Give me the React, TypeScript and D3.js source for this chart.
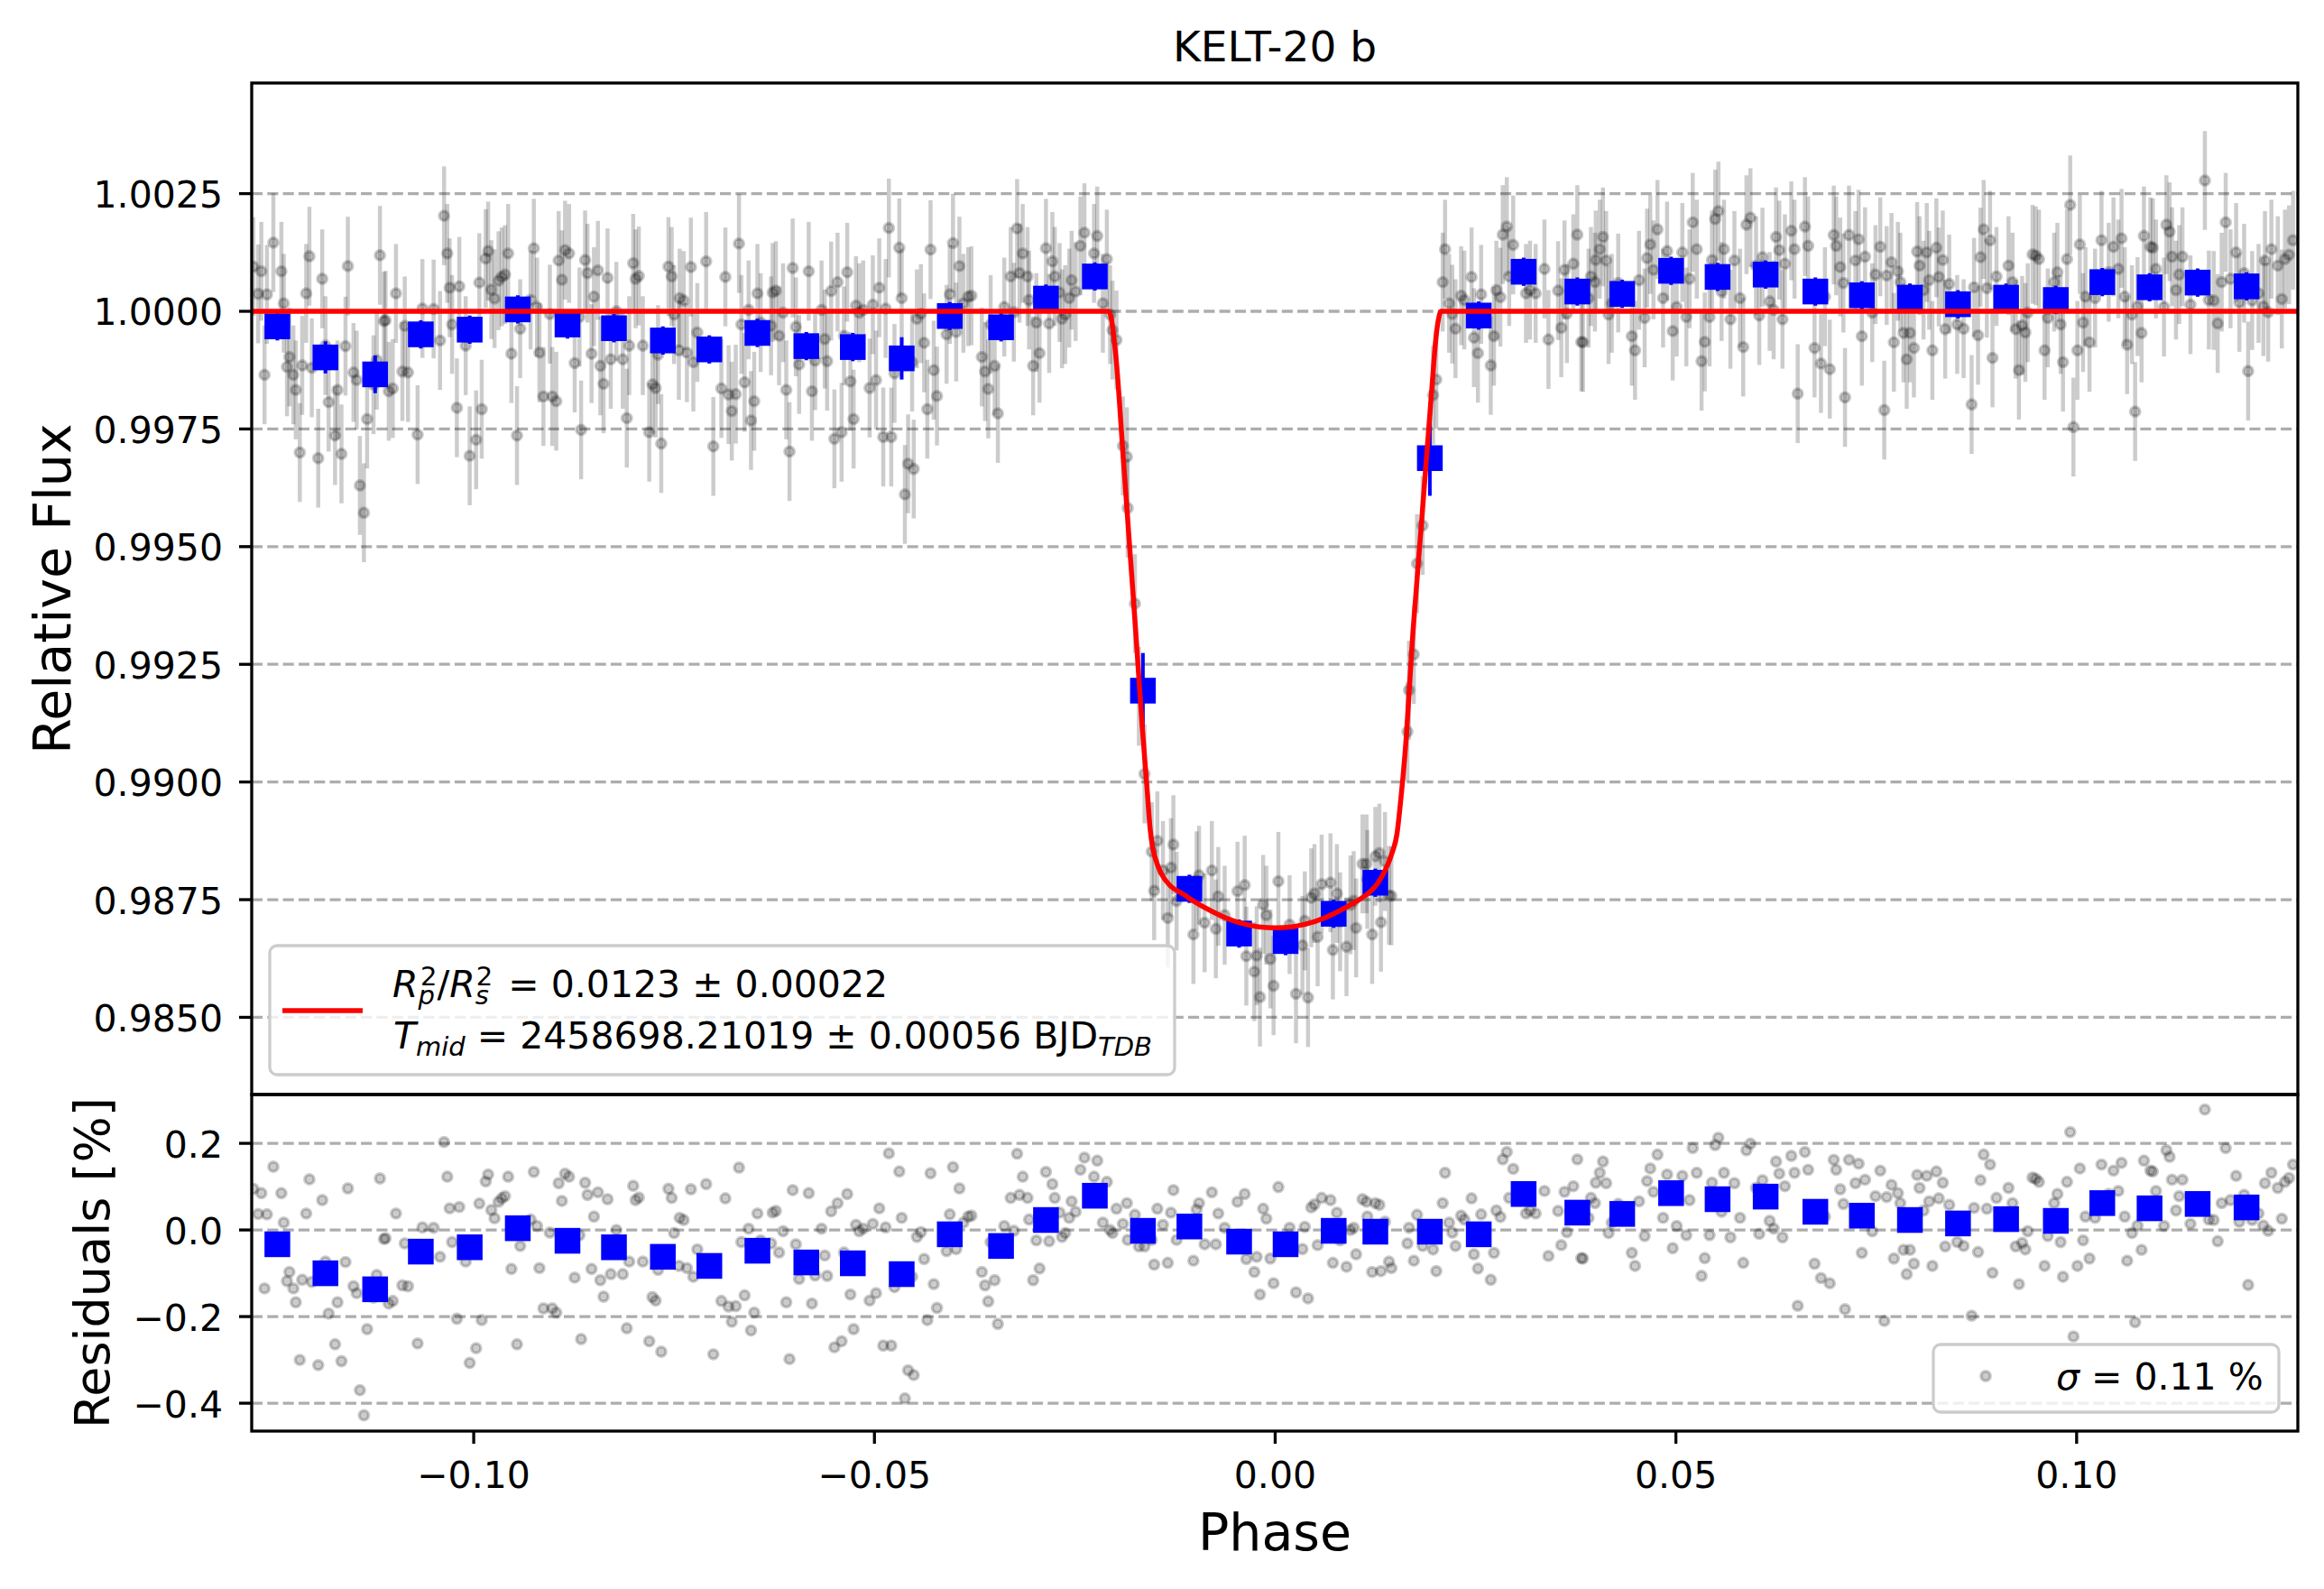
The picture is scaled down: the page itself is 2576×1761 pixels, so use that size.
import React from 'react';
import * as d3 from 'd3';

// phase-folded light curve (gray points), one entry per exposure
const PHASE = [
  -0.1275,-0.1269,-0.1265,-0.1261,-0.1258,-0.1250,-0.1240,-0.1237,-0.1233,-0.1230,
  -0.1225,-0.1222,-0.1217,-0.1214,-0.1209,-0.1205,-0.1202,-0.1194,-0.1189,-0.1185,
  -0.1181,-0.1173,-0.1170,-0.1165,-0.1160,-0.1157,-0.1150,-0.1146,-0.1142,-0.1137,
  -0.1133,-0.1125,-0.1121,-0.1117,-0.1112,-0.1110,-0.1106,-0.1101,-0.1097,-0.1089,
  -0.1086,-0.1082,-0.1070,-0.1064,-0.1050,-0.1042,-0.1037,-0.1033,-0.1030,-0.1027,
  -0.1021,-0.1018,-0.1010,-0.1005,-0.0997,-0.0993,-0.0990,-0.0985,-0.0982,-0.0978,
  -0.0974,-0.0969,-0.0965,-0.0961,-0.0957,-0.0953,-0.0946,-0.0942,-0.0929,-0.0925,
  -0.0921,-0.0918,-0.0913,-0.0905,-0.0902,-0.0897,-0.0894,-0.0890,-0.0886,-0.0881,
  -0.0874,-0.0868,-0.0866,-0.0861,-0.0858,-0.0853,-0.0850,-0.0845,-0.0842,-0.0838,
  -0.0833,-0.0829,-0.0822,-0.0814,-0.0809,-0.0806,-0.0801,-0.0798,-0.0794,-0.0789,
  -0.0781,-0.0777,-0.0773,-0.0770,-0.0766,-0.0757,-0.0753,-0.0750,-0.0744,-0.0743,
  -0.0738,-0.0734,-0.0729,-0.0726,-0.0721,-0.0710,-0.0701,-0.0691,-0.0686,-0.0682,
  -0.0678,-0.0673,-0.0669,-0.0666,-0.0662,-0.0657,-0.0654,-0.0650,-0.0646,-0.0642,
  -0.0629,-0.0627,-0.0623,-0.0619,-0.0614,-0.0610,-0.0606,-0.0602,-0.0598,-0.0594,
  -0.0582,-0.0578,-0.0574,-0.0566,-0.0562,-0.0559,-0.0554,-0.0550,-0.0546,-0.0541,
  -0.0538,-0.0534,-0.0530,-0.0526,-0.0523,-0.0519,-0.0514,-0.0506,-0.0502,-0.0498,
  -0.0494,-0.0489,-0.0486,-0.0482,-0.0479,-0.0475,-0.0469,-0.0466,-0.0462,-0.0458,
  -0.0453,-0.0451,-0.0447,-0.0442,-0.0438,-0.0434,-0.0430,-0.0426,-0.0422,-0.0410,
  -0.0406,-0.0402,-0.0398,-0.0394,-0.0389,-0.0383,-0.0379,-0.0366,-0.0362,-0.0358,
  -0.0355,-0.0350,-0.0346,-0.0338,-0.0330,-0.0326,-0.0322,-0.0319,-0.0315,-0.0309,
  -0.0307,-0.0302,-0.0298,-0.0294,-0.0286,-0.0282,-0.0278,-0.0275,-0.0269,-0.0266,
  -0.0262,-0.0257,-0.0254,-0.0249,-0.0243,-0.0238,-0.0226,-0.0222,-0.0215,-0.0210,
  -0.0206,-0.0203,-0.0198,-0.0190,-0.0185,-0.0184,-0.0175,-0.0170,-0.0163,-0.0154,
  -0.0151,-0.0147,-0.0140,-0.0134,-0.0130,-0.0127,-0.0123,-0.0102,-0.0098,-0.0095,
  -0.0088,-0.0079,-0.0074,-0.0071,-0.0063,-0.0047,-0.0038,-0.0036,-0.0026,-0.0023,
  -0.0019,-0.0015,-0.0011,-0.0006,-0.0002,0.0004,0.0018,0.0026,0.0034,0.0037,
  0.0041,0.0045,0.0049,0.0053,0.0058,0.0069,0.0072,0.0077,0.0081,0.0089,
  0.0094,0.0098,0.0101,0.0109,0.0114,0.0115,0.0121,0.0125,0.0130,0.0132,
  0.0137,0.0142,0.0145,0.0165,0.0167,0.0173,0.0177,0.0184,0.0197,0.0201,
  0.0209,0.0212,0.0217,0.0221,0.0225,0.0232,0.0236,0.0245,0.0248,0.0253,
  0.0257,0.0269,0.0273,0.0276,0.0281,0.0284,0.0289,0.0292,0.0297,0.0313,
  0.0318,0.0325,0.0336,0.0341,0.0353,0.0357,0.0361,0.0364,0.0372,0.0377,
  0.0382,0.0384,0.0391,0.0394,0.0399,0.0400,0.0405,0.0409,0.0413,0.0416,
  0.0420,0.0428,0.0445,0.0449,0.0454,0.0461,0.0464,0.0468,0.0472,0.0477,
  0.0484,0.0489,0.0496,0.0501,0.0508,0.0513,0.0517,0.0521,0.0526,0.0532,
  0.0536,0.0542,0.0545,0.0549,0.0553,0.0557,0.0560,0.0568,0.0573,0.0580,
  0.0584,0.0588,0.0593,0.0600,0.0604,0.0608,0.0617,0.0622,0.0625,0.0629,
  0.0633,0.0636,0.0644,0.0648,0.0652,0.0661,0.0665,0.0673,0.0681,0.0686,
  0.0692,0.0697,0.0700,0.0705,0.0709,0.0711,0.0716,0.0724,0.0728,0.0732,
  0.0736,0.0745,0.0749,0.0755,0.0760,0.0763,0.0769,0.0772,0.0777,0.0780,
  0.0784,0.0788,0.0792,0.0797,0.0801,0.0804,0.0809,0.0813,0.0816,0.0820,
  0.0825,0.0828,0.0833,0.0836,0.0841,0.0851,0.0859,0.0869,0.0872,0.0877,
  0.0880,0.0884,0.0888,0.0892,0.0895,0.0900,0.0915,0.0920,0.0924,0.0928,
  0.0932,0.0936,0.0939,0.0945,0.0949,0.0953,0.0960,0.0964,0.0972,0.0976,
  0.0980,0.0983,0.0988,0.0992,0.0996,0.1001,0.1004,0.1008,0.1011,0.1016,
  0.1023,0.1031,0.1040,0.1046,0.1052,0.1056,0.1060,0.1063,0.1069,0.1073,
  0.1076,0.1081,0.1084,0.1092,0.1095,0.1099,0.1109,0.1112,0.1116,0.1119,
  0.1124,0.1128,0.1132,0.1142,0.1160,0.1165,0.1171,0.1176,0.1181,0.1186,
  0.1192,0.1199,0.1203,0.1209,0.1214,0.1219,0.1227,0.1233,0.1235,0.1239,
  0.1243,0.1251,0.1256,0.1260,0.1265,0.1270,
];

const FLUX = [
  1.00095,1.00037,1.00085,0.99865,1.00036,1.00146,1.00085,1.00017,0.99882,0.99903,
  0.99865,0.99833,0.99700,0.99885,1.00038,1.00117,0.99880,0.99688,1.00069,0.99927,
  0.99807,0.99736,0.99833,0.99697,0.99926,1.00096,0.99870,0.99854,0.99630,0.99572,
  0.99771,0.99844,0.99896,1.00119,0.99979,0.99981,0.99830,0.99836,1.00038,0.99872,
  0.99969,0.99870,0.99738,1.00006,1.00005,0.99938,1.00203,1.00123,1.00050,0.99972,
  0.99795,1.00053,0.99927,0.99693,0.99727,1.00061,0.99792,1.00112,1.00128,1.00046,
  1.00027,1.00065,1.00073,1.00078,1.00123,0.99910,0.99736,0.99963,1.00024,1.00134,
  1.00009,0.99912,0.99819,0.99994,0.99819,0.99809,1.00108,1.00067,1.00130,1.00123,
  0.99890,0.99988,0.99748,1.00109,1.00081,0.99910,1.00031,1.00087,0.99884,0.99846,
  1.00071,0.99898,1.00000,0.99898,0.99773,0.99927,1.00102,1.00069,1.00075,0.99927,
  0.99743,0.99845,0.99837,0.99908,0.99719,1.00095,1.00074,0.99993,0.99917,1.00028,
  1.00023,0.99912,1.00094,0.99892,0.99955,1.00106,0.99713,0.99836,1.00073,0.99823,
  0.99788,0.99824,1.00144,0.99972,0.99849,1.00003,0.99768,0.99809,1.00038,0.99976,
  0.99969,1.00040,1.00044,0.99948,0.99997,0.99833,0.99702,1.00092,0.99967,0.99887,
  1.00085,0.99830,0.99895,1.00003,0.99941,0.99894,1.00043,0.99729,1.00062,0.99743,
  0.99948,1.00083,0.99851,0.99771,1.00012,0.99997,1.00003,0.99837,1.00014,0.99854,
  1.00050,0.99733,1.00006,1.00177,0.99733,0.99868,1.00135,1.00028,0.99611,0.99676,
  0.99892,0.99665,0.99984,0.99995,0.99933,0.99792,1.00131,0.99875,0.99820,0.99951,
  1.00036,1.00145,0.99956,1.00096,1.00017,1.00031,1.00033,0.99903,0.99872,0.99835,
  0.99972,0.99884,0.99783,1.00009,1.00074,0.99998,1.00176,1.00081,1.00123,1.00074,
  1.00024,0.99884,0.99976,0.99911,1.00134,0.99974,1.00106,1.00074,1.00040,0.99984,
  0.99993,1.00028,1.00066,1.00042,1.00139,1.00167,1.00123,1.00160,1.00017,1.00111,
  0.99993,0.99960,0.99939,0.99714,0.99691,0.99582,0.99379,0.99182,0.99017,0.98852,
  0.98769,0.98875,0.98812,0.98711,0.98818,0.98867,0.98747,0.98676,0.98790,0.98802,
  0.98701,0.98812,0.98688,0.98757,0.98717,0.98768,0.98781,0.98630,0.98597,0.98631,
  0.98543,0.98740,0.98717,0.98624,0.98567,0.98789,0.98697,0.98550,0.98653,0.98705,
  0.98542,0.98754,0.98763,0.98671,0.98783,0.98786,0.98643,0.98763,0.98703,0.98650,
  0.98739,0.98748,0.98690,0.98826,0.98826,0.98793,0.98676,0.98842,0.98849,0.98702,
  0.98831,0.98759,0.98758,0.99107,0.99195,0.99271,0.99464,0.99545,0.99822,0.99855,
  1.00062,1.00132,1.00017,0.99994,0.99963,1.00033,1.00024,1.00073,0.99944,0.99911,
  1.00036,0.99885,0.99947,1.00045,1.00030,1.00163,1.00180,1.00074,1.00141,1.00038,
  1.00045,1.00038,1.00090,0.99940,1.00044,0.99965,1.00088,0.99995,1.00101,1.00163,
  0.99935,0.99934,1.00028,1.00074,1.00062,1.00109,1.00132,1.00158,1.00108,0.99993,
  1.00017,1.00060,0.99947,0.99917,1.00066,0.99986,1.00113,1.00142,1.00088,1.00174,
  1.00028,1.00128,0.99958,1.00009,1.00125,0.99988,1.00069,1.00189,1.00132,0.99894,
  0.99935,0.99988,1.00109,1.00196,1.00213,1.00042,1.00132,0.99983,1.00108,1.00028,
  0.99924,1.00184,1.00199,1.00097,0.99991,1.00115,1.00021,1.00003,1.00158,1.00130,
  0.99983,1.00101,1.00171,1.00132,0.99825,1.00180,1.00139,0.99922,0.99889,1.00031,
  0.99877,1.00162,1.00139,1.00094,1.00060,0.99817,1.00162,1.00108,1.00153,0.99947,
  1.00116,0.99997,1.00078,1.00137,0.99790,1.00076,1.00104,0.99934,1.00085,1.00062,
  0.99954,0.99898,0.99954,0.99922,1.00127,1.00097,1.00045,1.00125,1.00066,0.99917,
  1.00135,1.00073,1.00109,0.99962,1.00058,0.99972,0.99963,0.99802,1.00051,0.99949,
  1.00115,1.00174,1.00049,1.00151,0.99901,1.00074,1.00097,1.00062,0.99962,0.99875,
  0.99970,0.99955,0.99997,1.00121,1.00118,1.00111,0.99917,0.99986,1.00062,1.00083,
  0.99972,0.99892,1.00111,1.00226,0.99754,0.99917,1.00142,0.99976,1.00031,0.99934,
  1.00028,1.00151,1.00083,1.00137,1.00090,1.00155,1.00031,0.99929,0.99993,0.99787,
  1.00010,0.99954,1.00160,1.00137,1.00135,1.00090,1.00009,1.00184,1.00169,1.00116,
  1.00045,1.00078,1.00116,1.00014,1.00278,1.00024,1.00023,0.99974,1.00062,1.00189,
  1.00069,1.00125,1.00019,1.00081,0.99873,1.00023,1.00038,1.00010,1.00108,0.99998,
  1.00132,1.00097,1.00026,1.00111,1.00120,1.00151,
];

// residuals in percent
const RESID = [
  0.095,0.037,0.085,-0.135,0.036,0.146,0.085,0.017,-0.118,-0.097,
  -0.135,-0.167,-0.300,-0.115,0.038,0.117,-0.120,-0.312,0.069,-0.073,
  -0.193,-0.264,-0.167,-0.303,-0.074,0.096,-0.130,-0.146,-0.370,-0.428,
  -0.229,-0.156,-0.104,0.119,-0.021,-0.019,-0.170,-0.164,0.038,-0.128,
  -0.031,-0.130,-0.262,0.006,0.005,-0.062,0.203,0.123,0.050,-0.028,
  -0.205,0.053,-0.073,-0.307,-0.273,0.061,-0.208,0.112,0.128,0.046,
  0.027,0.065,0.073,0.078,0.123,-0.090,-0.264,-0.037,0.024,0.134,
  0.009,-0.088,-0.181,-0.006,-0.181,-0.191,0.108,0.067,0.130,0.123,
  -0.110,-0.012,-0.252,0.109,0.081,-0.090,0.031,0.087,-0.116,-0.154,
  0.071,-0.102,0.000,-0.102,-0.227,-0.073,0.102,0.069,0.075,-0.073,
  -0.257,-0.155,-0.163,-0.092,-0.281,0.095,0.074,-0.007,-0.083,0.028,
  0.023,-0.088,0.094,-0.108,-0.045,0.106,-0.287,-0.164,0.073,-0.177,
  -0.212,-0.176,0.144,-0.028,-0.151,0.003,-0.232,-0.191,0.038,-0.024,
  -0.031,0.040,0.044,-0.052,-0.003,-0.167,-0.298,0.092,-0.033,-0.113,
  0.085,-0.170,-0.105,0.003,-0.059,-0.106,0.043,-0.271,0.062,-0.257,
  -0.052,0.083,-0.149,-0.229,0.012,-0.003,0.003,-0.163,0.014,-0.146,
  0.050,-0.267,0.006,0.177,-0.267,-0.132,0.135,0.028,-0.389,-0.324,
  -0.108,-0.335,-0.016,-0.005,-0.067,-0.208,0.131,-0.125,-0.180,-0.049,
  0.036,0.145,-0.044,0.096,0.017,0.031,0.033,-0.097,-0.128,-0.165,
  -0.028,-0.116,-0.217,0.009,0.074,-0.002,0.176,0.081,0.123,0.074,
  0.024,-0.116,-0.024,-0.089,0.134,-0.026,0.106,0.074,0.040,-0.016,
  -0.007,0.028,0.066,0.042,0.139,0.167,0.123,0.160,0.017,0.111,
  0.000,-0.007,0.049,0.014,0.062,-0.023,0.035,-0.038,-0.038,-0.023,
  -0.080,0.049,0.012,-0.076,0.040,0.092,-0.023,-0.071,0.047,0.062,
  -0.033,0.087,-0.033,0.038,0.005,0.065,0.083,-0.067,-0.097,-0.062,
  -0.149,0.049,0.026,-0.066,-0.123,0.099,0.005,-0.144,-0.044,0.007,
  -0.158,0.052,0.059,-0.035,0.074,0.069,-0.076,0.040,-0.024,-0.085,
  0.000,0.005,-0.056,0.071,0.065,0.031,-0.097,0.062,0.058,-0.095,
  0.019,-0.073,-0.088,-0.031,0.005,-0.071,0.035,-0.037,-0.045,-0.095,
  0.062,0.132,0.017,-0.006,-0.037,0.033,0.024,0.073,-0.056,-0.089,
  0.036,-0.115,-0.053,0.045,0.030,0.163,0.180,0.074,0.141,0.038,
  0.045,0.038,0.090,-0.060,0.044,-0.035,0.088,-0.005,0.101,0.163,
  -0.065,-0.066,0.028,0.074,0.062,0.109,0.132,0.158,0.108,-0.007,
  0.017,0.060,-0.053,-0.083,0.066,-0.014,0.113,0.142,0.088,0.174,
  0.028,0.128,-0.042,0.009,0.125,-0.012,0.069,0.189,0.132,-0.106,
  -0.065,-0.012,0.109,0.196,0.213,0.042,0.132,-0.017,0.108,0.028,
  -0.076,0.184,0.199,0.097,-0.009,0.115,0.021,0.003,0.158,0.130,
  -0.017,0.101,0.171,0.132,-0.175,0.180,0.139,-0.078,-0.111,0.031,
  -0.123,0.162,0.139,0.094,0.060,-0.183,0.162,0.108,0.153,-0.053,
  0.116,-0.003,0.078,0.137,-0.210,0.076,0.104,-0.066,0.085,0.062,
  -0.046,-0.102,-0.046,-0.078,0.127,0.097,0.045,0.125,0.066,-0.083,
  0.135,0.073,0.109,-0.038,0.058,-0.028,-0.037,-0.198,0.051,-0.051,
  0.115,0.174,0.049,0.151,-0.099,0.074,0.097,0.062,-0.038,-0.125,
  -0.030,-0.045,-0.003,0.121,0.118,0.111,-0.083,-0.014,0.062,0.083,
  -0.028,-0.108,0.111,0.226,-0.246,-0.083,0.142,-0.024,0.031,-0.066,
  0.028,0.151,0.083,0.137,0.090,0.155,0.031,-0.071,-0.007,-0.213,
  0.010,-0.046,0.160,0.137,0.135,0.090,0.009,0.184,0.169,0.116,
  0.045,0.078,0.116,0.014,0.278,0.024,0.023,-0.026,0.062,0.189,
  0.069,0.125,0.019,0.081,-0.127,0.023,0.038,0.010,0.108,-0.002,
  0.132,0.097,0.026,0.111,0.120,0.151,
];

const FLUX_ERR = 0.00105;

// binned points (blue squares)
const BIN_PHASE = [
  -0.1245,-0.1185,-0.1123,-0.1066,-0.1005,-0.0945,-0.0883,-0.0825,-0.0764,-0.0706,
  -0.0646,-0.0585,-0.0527,-0.0466,-0.0406,-0.0342,-0.0286,-0.0225,-0.0165,-0.0107,
  -0.0045,0.0013,0.0073,0.0125,0.0193,0.0254,0.0310,0.0377,0.0433,0.0494,
  0.0552,0.0612,0.0674,0.0732,0.0792,0.0852,0.0912,0.0974,0.1032,0.1091,
  0.1151,0.1212,
];
const BIN_FLUX = [
  0.99968,0.99902,0.99866,0.99951,0.99961,1.00004,0.99972,0.99964,0.99938,0.99919,
  0.99954,0.99926,0.99924,0.99900,0.99990,0.99966,1.00027,1.00074,0.99194,0.98773,
  0.98678,0.98662,0.98720,0.98786,0.99688,0.99991,1.00084,1.00042,1.00037,1.00086,
  1.00073,1.00078,1.00042,1.00034,1.00029,1.00015,1.00029,1.00024,1.00062,1.00051,
  1.00061,1.00053,
];
const BIN_ERR = [
  0.0003,0.00034,0.0004,0.0003,0.0003,0.0003,0.0003,0.0003,0.0003,0.0003,
  0.0003,0.0003,0.0003,0.00045,0.0003,0.0003,0.0003,0.0003,0.0008,0.0003,
  0.0003,0.0003,0.0003,0.0003,0.0008,0.0003,0.0003,0.0003,0.0003,0.0003,
  0.0003,0.0003,0.0003,0.0003,0.0003,0.0003,0.0003,0.0003,0.0003,0.0003,
  0.0003,0.0003,
];
const BIN_RESID = [
  -0.033,-0.100,-0.137,-0.050,-0.040,0.004,-0.025,-0.040,-0.062,-0.083,
  -0.048,-0.075,-0.077,-0.102,-0.010,-0.037,0.023,0.079,-0.002,0.008,
  -0.027,-0.033,-0.002,-0.004,-0.004,-0.010,0.083,0.040,0.037,0.085,
  0.071,0.077,0.042,0.033,0.023,0.015,0.025,0.021,0.062,0.050,
  0.060,0.052,
];

// transit model (red curve)
const MODEL_PHASE = [
  -0.1277,-0.0208,-0.0205,-0.0202,-0.0198,-0.0190,-0.0182,-0.0174,-0.0166,-0.0160,
  -0.0156,-0.0153,-0.0149,-0.0142,-0.0130,-0.0115,-0.0100,-0.0080,-0.0060,-0.0040,
  -0.0020,0.0000,0.0020,0.0040,0.0060,0.0080,0.0100,0.0115,0.0128,0.0138,
  0.0146,0.0152,0.0156,0.0162,0.0172,0.0183,0.0195,0.0201,0.0204,0.0207,
  0.1276,
];
const MODEL_FLUX = [
  1.00000,1.00000,0.99990,0.99955,0.99890,0.99700,0.99510,0.99320,0.99120,0.98990,
  0.98900,0.98862,0.98835,0.98805,0.98778,0.98762,0.98745,0.98726,0.98710,0.98699,
  0.98692,0.98690,0.98692,0.98699,0.98710,0.98726,0.98745,0.98762,0.98785,0.98815,
  0.98850,0.98890,0.98950,0.99060,0.99320,0.99560,0.99825,0.99950,0.99985,1.00000,
  1.00000,
];

const FLUX_TICKS = [0.985, 0.9875, 0.99, 0.9925, 0.995, 0.9975, 1.0, 1.0025];
const RESID_TICKS = [-0.4, -0.2, 0, 0.2];
const PHASE_TICKS = [-0.1, -0.05, 0, 0.05, 0.1];

const W = 2576;
const H = 1761;
const L = 279;
const R = 2547;
const T = 92;
const M = 1213;
const B = 1586;
const FONT = '"DejaVu Sans", sans-serif';
const GRID = '#adadad';

export default function App() {
  const x = d3.scaleLinear().domain([-0.1277, 0.1276]).range([L, R]);
  const yTop = d3.scaleLinear().domain([0.98336, 1.00485]).range([M, T]);
  const yBot = d3.scaleLinear().domain([-0.4644, 0.3127]).range([B, M]);

  const fmtFlux = d3.format('.4f');
  const fmtRes = d3.format('.1f');
  const fmtPhase = d3.format('.2f');

  const modelPath = d3
    .line<number>()
    .x((_, i) => x(MODEL_PHASE[i]))
    .y((d) => yTop(d))
    .curve(d3.curveMonotoneX)(MODEL_FLUX) as string;

  const sq = 28.5;

  return (
    <div style={{ position: 'absolute', left: 0, top: 0 }}>
      <svg width={W} height={H} viewBox={`0 0 ${W} ${H}`} style={{ display: 'block', background: '#fff' }} fontFamily={FONT}>
        <defs>
          <clipPath id="clipTop">
            <rect x={L} y={T} width={R - L} height={M - T} />
          </clipPath>
          <clipPath id="clipBot">
            <rect x={L} y={M} width={R - L} height={B - M} />
          </clipPath>
        </defs>
        <rect width={W} height={H} fill="#fff" />

        {/* title */}
        <text x={(L + R) / 2} y={68} fontSize={47} textAnchor="middle">KELT-20 b</text>

        {/* ---------- top panel ---------- */}
        <g>
          {FLUX_TICKS.map((t) => (
            <line key={t} x1={L} x2={R} y1={yTop(t)} y2={yTop(t)} stroke={GRID} strokeWidth={3.3} strokeDasharray="12.1 5.2" />
          ))}
          <g clipPath="url(#clipTop)">
            {PHASE.map((p, i) => (
              <line key={'e' + i} x1={x(p)} x2={x(p)} y1={yTop(FLUX[i] - FLUX_ERR)} y2={yTop(FLUX[i] + FLUX_ERR)} stroke="#000" strokeOpacity={0.2} strokeWidth={4.5} />
            ))}
            {PHASE.map((p, i) => (
              <circle key={'c' + i} cx={x(p)} cy={yTop(FLUX[i])} r={5.2} fill="#000" fillOpacity={0.2} stroke="#000" strokeOpacity={0.2} strokeWidth={3.5} />
            ))}
            {BIN_PHASE.map((p, i) => (
              <line key={'be' + i} x1={x(p)} x2={x(p)} y1={yTop(BIN_FLUX[i] - BIN_ERR[i])} y2={yTop(BIN_FLUX[i] + BIN_ERR[i])} stroke="#0000ff" strokeWidth={4} />
            ))}
            {BIN_PHASE.map((p, i) => (
              <rect key={'b' + i} x={x(p) - sq / 2} y={yTop(BIN_FLUX[i]) - sq / 2} width={sq} height={sq} fill="#0000ff" />
            ))}
            <path d={modelPath} fill="none" stroke="#ff0000" strokeWidth={5.5} strokeLinejoin="round" />
          </g>
          {FLUX_TICKS.map((t) => (
            <g key={'t' + t}>
              <line x1={L - 14} x2={L} y1={yTop(t)} y2={yTop(t)} stroke="#000" strokeWidth={3.3} />
              <text x={L - 32} y={yTop(t) + 15.5} fontSize={41} textAnchor="end">{fmtFlux(t)}</text>
            </g>
          ))}
          <rect x={L} y={T} width={R - L} height={M - T} fill="none" stroke="#000" strokeWidth={3.3} />

          {/* legend */}
          <rect x={299} y={1048} width={1003} height={143} rx={8} fill="#fff" fillOpacity={0.8} stroke="#cccccc" strokeWidth={3.3} />
          <line x1={313} x2={402} y1={1120} y2={1120} stroke="#ff0000" strokeWidth={5.5} />
          <text x={435} y={1105} fontSize={41}>
            <tspan fontStyle="italic">R</tspan>
            <tspan fontStyle="italic" fontSize={29} dy={8}>p</tspan>
            <tspan fontSize={29} dx={-16} dy={-21}>2</tspan>
            <tspan dy={13}>/</tspan>
            <tspan fontStyle="italic">R</tspan>
            <tspan fontStyle="italic" fontSize={29} dy={8}>s</tspan>
            <tspan fontSize={29} dx={-14} dy={-21}>2</tspan>
            <tspan dx={4} dy={13}>{' = 0.0123 \u00b1 0.00022'}</tspan>
          </text>
          <text x={436} y={1162} fontSize={41}>
            <tspan fontStyle="italic">T</tspan>
            <tspan fontStyle="italic" fontSize={29} dy={8}>mid</tspan>
            <tspan dy={-8}>{' = 2458698.21019 \u00b1 0.00056 BJD'}</tspan>
            <tspan fontStyle="italic" fontSize={29} dy={8}>TDB</tspan>
          </text>
        </g>

        {/* ---------- bottom panel ---------- */}
        <g>
          {RESID_TICKS.map((t) => (
            <line key={t} x1={L} x2={R} y1={yBot(t)} y2={yBot(t)} stroke={GRID} strokeWidth={3.3} strokeDasharray="12.1 5.2" />
          ))}
          <g clipPath="url(#clipBot)">
            {PHASE.map((p, i) => (
              <circle key={'r' + i} cx={x(p)} cy={yBot(RESID[i])} r={5.2} fill="#000" fillOpacity={0.2} stroke="#000" strokeOpacity={0.2} strokeWidth={3.5} />
            ))}
            {BIN_PHASE.map((p, i) => (
              <rect key={'br' + i} x={x(p) - sq / 2} y={yBot(BIN_RESID[i]) - sq / 2} width={sq} height={sq} fill="#0000ff" />
            ))}
          </g>
          {RESID_TICKS.map((t) => (
            <g key={'rt' + t}>
              <line x1={L - 14} x2={L} y1={yBot(t)} y2={yBot(t)} stroke="#000" strokeWidth={3.3} />
              <text x={L - 32} y={yBot(t) + 15.5} fontSize={41} textAnchor="end">{fmtRes(t)}</text>
            </g>
          ))}
          {PHASE_TICKS.map((t) => (
            <g key={'pt' + t}>
              <line x1={x(t)} x2={x(t)} y1={B} y2={B + 14} stroke="#000" strokeWidth={3.3} />
              <text x={x(t)} y={1649} fontSize={41} textAnchor="middle">{fmtPhase(t)}</text>
            </g>
          ))}
          <rect x={L} y={M} width={R - L} height={B - M} fill="none" stroke="#000" strokeWidth={3.3} />

          {/* sigma legend */}
          <rect x={2143} y={1490} width={383} height={75} rx={8} fill="#fff" fillOpacity={0.8} stroke="#cccccc" strokeWidth={3.3} />
          <circle cx={2201} cy={1525} r={5.2} fill="#000" fillOpacity={0.2} stroke="#000" strokeOpacity={0.2} strokeWidth={3.5} />
          <text x={2279} y={1540} fontSize={41}>
            <tspan fontStyle="italic">{'\u03c3'}</tspan>
            <tspan>{' = 0.11 %'}</tspan>
          </text>
        </g>

        {/* axis labels */}
        <text x={(L + R) / 2} y={1718} fontSize={57} textAnchor="middle">Phase</text>
        <text transform={`translate(78,${(T + M) / 2}) rotate(-90)`} fontSize={57} textAnchor="middle">Relative Flux</text>
        <text transform={`translate(121,${(M + B) / 2}) rotate(-90)`} fontSize={54} textAnchor="middle">Residuals [%]</text>
      </svg>
    </div>
  );
}
